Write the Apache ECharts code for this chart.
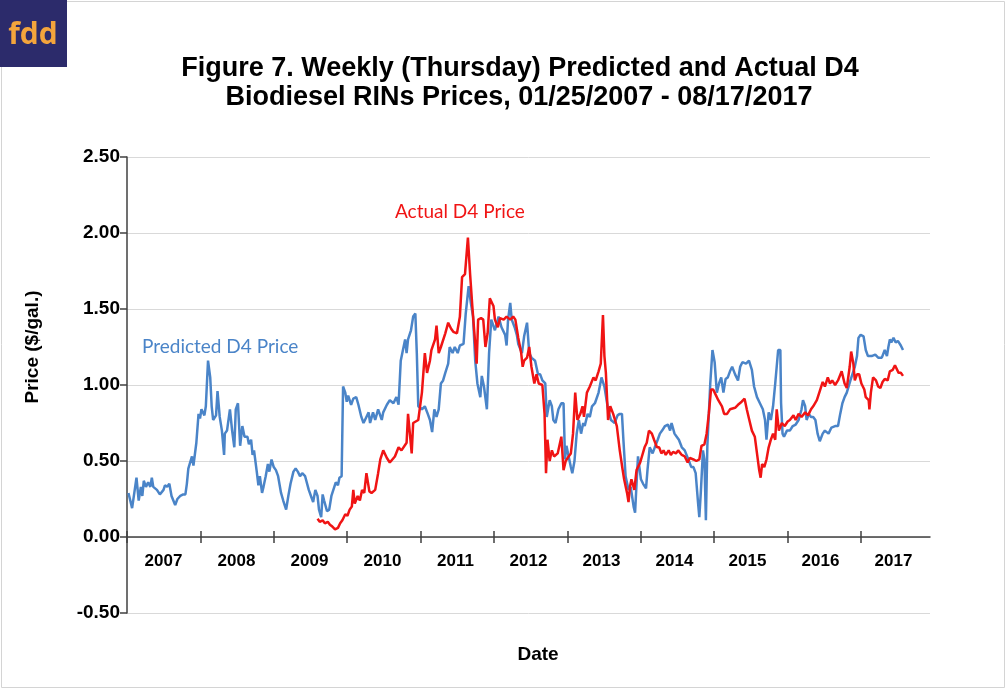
<!DOCTYPE html>
<html>
<head>
<meta charset="utf-8">
<title>Figure 7 - D4 Biodiesel RINs Prices</title>
<script src="https://cdn.jsdelivr.net/npm/echarts@6/dist/echarts.min.js"></script>
<style>
  html, body { margin: 0; padding: 0; background: #fff; }
  #chart { width: 1008px; height: 690px; }
</style>
</head>
<body>
<div id="chart"></div>
<script>
// year labels on the x axis
let yearLabels = ['2007', '2008', '2009', '2010', '2011', '2012', '2013', '2014', '2015', '2016', '2017']

// predicted D4 price (decimal year, $/gal.)
let predYears = [
  2007.02, 2007.04, 2007.07, 2007.10, 2007.13, 2007.16, 2007.19, 2007.21, 2007.23, 2007.26,
  2007.29, 2007.32, 2007.34, 2007.36, 2007.41, 2007.45, 2007.50, 2007.52, 2007.55, 2007.58,
  2007.61, 2007.66, 2007.69, 2007.73, 2007.77, 2007.80, 2007.82, 2007.84, 2007.89, 2007.91,
  2007.93, 2007.95, 2007.98, 2008.00, 2008.02, 2008.06, 2008.08, 2008.11, 2008.14, 2008.16,
  2008.18, 2008.22, 2008.24, 2008.27, 2008.30, 2008.33, 2008.34, 2008.37, 2008.41, 2008.44,
  2008.47, 2008.49, 2008.52, 2008.55, 2008.58, 2008.61, 2008.65, 2008.67, 2008.70, 2008.72,
  2008.74, 2008.78, 2008.80, 2008.82, 2008.85, 2008.87, 2008.90, 2008.93, 2008.95, 2008.98,
  2009.01, 2009.04, 2009.07, 2009.11, 2009.14, 2009.18, 2009.21, 2009.24, 2009.28, 2009.31,
  2009.34, 2009.37, 2009.40, 2009.44, 2009.46, 2009.49, 2009.52, 2009.55, 2009.58, 2009.61,
  2009.63, 2009.66, 2009.68, 2009.70, 2009.74, 2009.77, 2009.80, 2009.84, 2009.86, 2009.89,
  2009.91, 2009.94, 2009.96, 2009.99, 2010.01, 2010.03, 2010.07, 2010.10, 2010.14, 2010.17,
  2010.21, 2010.24, 2010.26, 2010.31, 2010.33, 2010.37, 2010.40, 2010.44, 2010.49, 2010.51,
  2010.56, 2010.60, 2010.65, 2010.69, 2010.72, 2010.75, 2010.78, 2010.81, 2010.83, 2010.85,
  2010.89, 2010.92, 2010.95, 2010.97, 2010.99, 2011.04, 2011.08, 2011.12, 2011.15, 2011.18,
  2011.21, 2011.24, 2011.27, 2011.30, 2011.33, 2011.36, 2011.40, 2011.42, 2011.46, 2011.49,
  2011.53, 2011.56, 2011.61, 2011.64, 2011.68, 2011.71, 2011.74, 2011.77, 2011.80, 2011.84,
  2011.86, 2011.89, 2011.93, 2011.96, 2011.99, 2012.04, 2012.09, 2012.13, 2012.18, 2012.20,
  2012.22, 2012.25, 2012.27, 2012.31, 2012.34, 2012.36, 2012.41, 2012.44, 2012.48, 2012.51,
  2012.54, 2012.59, 2012.63, 2012.66, 2012.69, 2012.73, 2012.75, 2012.79, 2012.82, 2012.84,
  2012.87, 2012.91, 2012.95, 2012.98, 2013.00, 2013.02, 2013.05, 2013.08, 2013.10, 2013.13,
  2013.16, 2013.19, 2013.22, 2013.25, 2013.27, 2013.31, 2013.34, 2013.37, 2013.41, 2013.46,
  2013.50, 2013.54, 2013.57, 2013.59, 2013.63, 2013.68, 2013.72, 2013.75, 2013.78, 2013.80,
  2013.83, 2013.87, 2013.90, 2013.94, 2013.96, 2013.98, 2014.00, 2014.04, 2014.07, 2014.11,
  2014.13, 2014.16, 2014.20, 2014.23, 2014.27, 2014.30, 2014.33, 2014.37, 2014.41, 2014.44,
  2014.46, 2014.50, 2014.53, 2014.56, 2014.60, 2014.64, 2014.69, 2014.73, 2014.76, 2014.79,
  2014.82, 2014.84, 2014.86, 2014.89, 2014.91, 2014.93, 2014.95, 2014.99, 2015.02, 2015.05,
  2015.08, 2015.11, 2015.14, 2015.17, 2015.20, 2015.23, 2015.26, 2015.29, 2015.33, 2015.37,
  2015.40, 2015.43, 2015.48, 2015.52, 2015.56, 2015.59, 2015.63, 2015.67, 2015.71, 2015.74,
  2015.76, 2015.79, 2015.82, 2015.85, 2015.88, 2015.90, 2015.92, 2015.95, 2015.96, 2015.98,
  2016.00, 2016.04, 2016.08, 2016.12, 2016.16, 2016.20, 2016.24, 2016.26, 2016.29, 2016.31,
  2016.34, 2016.37, 2016.40, 2016.43, 2016.46, 2016.49, 2016.53, 2016.56, 2016.61, 2016.65,
  2016.70, 2016.74, 2016.77, 2016.80, 2016.83, 2016.86, 2016.91, 2016.97, 2017.00, 2017.02,
  2017.05, 2017.09, 2017.12, 2017.15, 2017.20, 2017.25, 2017.29, 2017.34, 2017.36, 2017.38,
  2017.41, 2017.43, 2017.45, 2017.47, 2017.50, 2017.53, 2017.56, 2017.60, 2017.63
]
let predPrices = [
  0.29, 0.28, 0.19, 0.29, 0.39, 0.24, 0.33, 0.27, 0.37, 0.33,
  0.36, 0.33, 0.39, 0.33, 0.31, 0.28, 0.31, 0.34, 0.33, 0.35,
  0.27, 0.21, 0.25, 0.27, 0.28, 0.28, 0.35, 0.45, 0.53, 0.47,
  0.48, 0.62, 0.81, 0.78, 0.84, 0.80, 0.86, 1.16, 1.05, 0.86,
  0.77, 0.80, 0.96, 0.79, 0.70, 0.54, 0.68, 0.70, 0.84, 0.70,
  0.59, 0.84, 0.88, 0.60, 0.73, 0.66, 0.66, 0.61, 0.64, 0.54,
  0.57, 0.42, 0.34, 0.40, 0.29, 0.33, 0.40, 0.48, 0.43, 0.51,
  0.46, 0.44, 0.40, 0.29, 0.24, 0.18, 0.27, 0.35, 0.43, 0.45,
  0.43, 0.40, 0.42, 0.40, 0.41, 0.31, 0.27, 0.23, 0.31, 0.27,
  0.18, 0.13, 0.28, 0.24, 0.17, 0.18, 0.27, 0.33, 0.36, 0.34,
  0.39, 0.40, 0.99, 0.95, 0.89, 0.93, 0.87, 0.91, 0.92, 0.87,
  0.79, 0.75, 0.77, 0.82, 0.75, 0.82, 0.77, 0.84, 0.77, 0.82,
  0.87, 0.90, 0.88, 0.92, 0.87, 1.16, 1.23, 1.30, 1.21, 1.30,
  1.36, 1.45, 1.47, 1.21, 0.86, 0.84, 0.86, 0.81, 0.77, 0.69,
  0.84, 0.79, 0.84, 1.01, 1.03, 1.08, 1.14, 1.25, 1.21, 1.25,
  1.21, 1.26, 1.27, 1.47, 1.65, 1.54, 1.45, 1.16, 1.01, 0.92,
  1.06, 0.99, 0.84, 1.21, 1.43, 1.36, 1.45, 1.38, 1.33, 1.26,
  1.43, 1.54, 1.43, 1.38, 1.33, 1.27, 1.21, 1.32, 1.41, 1.21,
  1.18, 1.16, 1.07, 1.07, 1.03, 1.01, 0.79, 0.90, 0.86, 0.77,
  0.75, 0.84, 0.88, 0.88, 0.51, 0.60, 0.53, 0.46, 0.42, 0.50,
  0.68, 0.77, 0.68, 0.75, 0.73, 0.81, 0.79, 0.86, 0.88, 0.95,
  1.05, 0.99, 0.90, 0.84, 0.77, 0.75, 0.80, 0.81, 0.81, 0.64,
  0.40, 0.31, 0.33, 0.20, 0.16, 0.35, 0.53, 0.38, 0.35, 0.32,
  0.44, 0.59, 0.55, 0.59, 0.64, 0.68, 0.70, 0.73, 0.74, 0.70,
  0.75, 0.68, 0.66, 0.64, 0.59, 0.57, 0.51, 0.46, 0.46, 0.42,
  0.24, 0.13, 0.29, 0.57, 0.51, 0.11, 0.60, 1.01, 1.23, 1.15,
  0.95, 1.01, 1.05, 0.95, 1.04, 1.05, 1.09, 1.12, 1.07, 1.03,
  1.12, 1.15, 1.14, 1.16, 1.10, 0.99, 0.92, 0.88, 0.84, 0.77,
  0.64, 0.82, 0.77, 0.86, 1.01, 1.12, 1.23, 1.23, 0.88, 0.68,
  0.66, 0.70, 0.70, 0.73, 0.74, 0.77, 0.84, 0.90, 0.86, 0.77,
  0.81, 0.79, 0.79, 0.77, 0.68, 0.63, 0.68, 0.70, 0.68, 0.72,
  0.73, 0.73, 0.81, 0.88, 0.92, 0.95, 1.03, 1.12, 1.19, 1.31,
  1.33, 1.32, 1.23, 1.19, 1.19, 1.20, 1.18, 1.18, 1.17, 1.23,
  1.19, 1.25, 1.30, 1.28, 1.31, 1.28, 1.29, 1.26, 1.23
]

// actual D4 price (decimal year, $/gal.)
let actYears = [
  2009.61, 2009.64, 2009.68, 2009.71, 2009.75, 2009.78, 2009.81, 2009.85, 2009.89, 2009.92,
  2009.95, 2009.99, 2010.02, 2010.05, 2010.08, 2010.10, 2010.12, 2010.16, 2010.19, 2010.22,
  2010.25, 2010.28, 2010.32, 2010.35, 2010.40, 2010.44, 2010.47, 2010.51, 2010.56, 2010.60,
  2010.67, 2010.72, 2010.76, 2010.83, 2010.85, 2010.90, 2010.92, 2010.99, 2011.04, 2011.08,
  2011.11, 2011.15, 2011.17, 2011.22, 2011.24, 2011.27, 2011.30, 2011.36, 2011.40, 2011.44,
  2011.47, 2011.52, 2011.56, 2011.59, 2011.63, 2011.67, 2011.70, 2011.73, 2011.77, 2011.79,
  2011.81, 2011.85, 2011.88, 2011.91, 2011.94, 2011.97, 2012.02, 2012.04, 2012.08, 2012.11,
  2012.16, 2012.20, 2012.25, 2012.29, 2012.32, 2012.36, 2012.40, 2012.42, 2012.44, 2012.48,
  2012.51, 2012.54, 2012.58, 2012.61, 2012.64, 2012.69, 2012.72, 2012.74, 2012.76, 2012.79,
  2012.82, 2012.85, 2012.90, 2012.95, 2012.98, 2013.01, 2013.05, 2013.08, 2013.11, 2013.14,
  2013.17, 2013.21, 2013.24, 2013.26, 2013.30, 2013.34, 2013.39, 2013.42, 2013.46, 2013.49,
  2013.52, 2013.54, 2013.56, 2013.59, 2013.62, 2013.66, 2013.71, 2013.75, 2013.79, 2013.81,
  2013.85, 2013.87, 2013.89, 2013.91, 2013.95, 2013.98, 2014.03, 2014.05, 2014.09, 2014.12,
  2014.15, 2014.19, 2014.22, 2014.26, 2014.29, 2014.32, 2014.35, 2014.38, 2014.42, 2014.45,
  2014.48, 2014.52, 2014.55, 2014.60, 2014.64, 2014.68, 2014.71, 2014.76, 2014.80, 2014.84,
  2014.87, 2014.91, 2014.94, 2014.97, 2015.00, 2015.03, 2015.06, 2015.10, 2015.15, 2015.18,
  2015.22, 2015.26, 2015.33, 2015.37, 2015.42, 2015.46, 2015.49, 2015.52, 2015.56, 2015.60,
  2015.63, 2015.66, 2015.68, 2015.70, 2015.73, 2015.76, 2015.79, 2015.82, 2015.85, 2015.88,
  2015.90, 2015.93, 2015.97, 2016.01, 2016.05, 2016.08, 2016.13, 2016.16, 2016.20, 2016.24,
  2016.29, 2016.33, 2016.37, 2016.40, 2016.45, 2016.49, 2016.53, 2016.56, 2016.60, 2016.63,
  2016.66, 2016.70, 2016.74, 2016.79, 2016.83, 2016.86, 2016.90, 2016.92, 2016.95, 2016.97,
  2017.00, 2017.03, 2017.06, 2017.10, 2017.12, 2017.16, 2017.17, 2017.19, 2017.22, 2017.26,
  2017.29, 2017.32, 2017.35, 2017.38, 2017.42, 2017.45, 2017.49, 2017.52, 2017.54, 2017.57,
  2017.60, 2017.63
]
let actPrices = [
  0.12, 0.10, 0.11, 0.09, 0.10, 0.08, 0.07, 0.05, 0.06, 0.09,
  0.11, 0.15, 0.14, 0.18, 0.20, 0.31, 0.22, 0.27, 0.24, 0.31,
  0.29, 0.42, 0.30, 0.29, 0.31, 0.42, 0.51, 0.57, 0.52, 0.49,
  0.53, 0.59, 0.57, 0.62, 0.81, 0.55, 0.75, 0.77, 0.95, 1.21,
  1.08, 1.16, 1.23, 1.30, 1.39, 1.21, 1.25, 1.34, 1.41, 1.37,
  1.35, 1.34, 1.45, 1.71, 1.73, 1.97, 1.73, 1.52, 1.27, 1.14,
  1.43, 1.44, 1.43, 1.25, 1.34, 1.57, 1.52, 1.43, 1.38, 1.44,
  1.43, 1.45, 1.43, 1.45, 1.43, 1.31, 1.21, 1.12, 1.16, 1.18,
  1.25, 1.12, 1.01, 1.07, 1.01, 1.00, 0.81, 0.42, 0.64, 0.50,
  0.57, 0.53, 0.55, 0.66, 0.44, 0.50, 0.53, 0.55, 0.68, 0.95,
  0.77, 0.81, 0.86, 0.79, 0.95, 0.99, 1.05, 1.03, 1.09, 1.14,
  1.46, 1.19, 1.08, 0.77, 0.86, 0.81, 0.73, 0.57, 0.44, 0.38,
  0.29, 0.23, 0.33, 0.38, 0.31, 0.44, 0.49, 0.48, 0.59, 0.62,
  0.70, 0.68, 0.64, 0.59, 0.59, 0.55, 0.57, 0.54, 0.57, 0.54,
  0.56, 0.55, 0.57, 0.54, 0.53, 0.49, 0.52, 0.51, 0.50, 0.51,
  0.60, 0.61, 0.68, 0.81, 0.97, 0.97, 0.94, 0.90, 0.86, 0.81,
  0.81, 0.84, 0.85, 0.87, 0.89, 0.91, 0.84, 0.78, 0.70, 0.66,
  0.55, 0.44, 0.39, 0.48, 0.46, 0.51, 0.59, 0.64, 0.68, 0.64,
  0.84, 0.70, 0.75, 0.73, 0.76, 0.77, 0.80, 0.77, 0.81, 0.79,
  0.82, 0.80, 0.84, 0.86, 0.90, 0.96, 1.02, 0.99, 1.05, 1.01,
  1.03, 1.00, 1.03, 1.09, 1.01, 0.98, 1.12, 1.22, 1.14, 1.03,
  1.07, 1.07, 1.01, 0.97, 0.92, 0.90, 0.84, 0.95, 1.05, 1.03,
  0.99, 0.98, 1.02, 1.04, 1.03, 1.09, 1.10, 1.13, 1.12, 1.08,
  1.08, 1.06
]

// y axis range
let yMin = -0.5
let yMax = 2.5
let yStep = 0.5

let blue = '#4a84c8'
let red = '#f01414'
let axisColor = '#404040'
let font = 'Liberation Sans'

let predData = predYears.map((y, i) => [y, predPrices[i]])
let actData = actYears.map((y, i) => [y, actPrices[i]])

let chart = echarts.init(document.getElementById('chart'))
chart.setOption({
    animation: false,
    backgroundColor: '#ffffff',
    grid: [
        // plot area (lines + price axis)
        {left: 127, right: 78, top: 157, bottom: 77, outerBoundsMode: 'none'},
        // year axis line + labels on the zero line
        {left: 127, right: 78, top: 157, bottom: 153, outerBoundsMode: 'none'},
        // crossing year ticks (2007..2017 boundaries), start 6px above the zero line
        {left: 127, right: 147, top: 157, bottom: 159, outerBoundsMode: 'none'}
    ],
    xAxis: [
        {
            gridIndex: 0,
            type: 'value',
            min: 2007,
            max: 2018,
            show: false
        },
        {
            gridIndex: 1,
            type: 'category',
            data: yearLabels,
            position: 'bottom',
            boundaryGap: true,
            axisLine: {lineStyle: {color: axisColor, width: 1.5}},
            axisTick: {show: false},
            axisLabel: {
                color: '#000', fontFamily: font, fontWeight: 'bold',
                fontSize: 17, margin: 16
            },
            splitLine: {show: false}
        },
        {
            gridIndex: 2,
            type: 'value',
            min: 2007,
            max: 2017,
            interval: 1,
            position: 'bottom',
            axisLine: {show: false},
            axisTick: {show: true, length: 12, lineStyle: {color: axisColor, width: 1.5}},
            axisLabel: {show: false},
            splitLine: {show: false}
        }
    ],
    yAxis: [
        {
            gridIndex: 0,
            type: 'value',
            min: yMin,
            max: yMax,
            interval: yStep,
            axisLine: {show: true, lineStyle: {color: axisColor, width: 1.5}},
            axisTick: {show: true, length: 7, lineStyle: {color: axisColor, width: 1.5}},
            axisLabel: {
                color: '#000', fontFamily: font, fontWeight: 'bold',
                fontSize: 19, margin: 7,
                formatter: v => v.toFixed(2)
            },
            splitLine: {lineStyle: {color: '#d9d9d9', width: 1}}
        },
        {gridIndex: 1, type: 'value', show: false},
        {gridIndex: 2, type: 'value', show: false}
    ],
    series: [
        {
            name: 'Predicted D4 Price',
            type: 'line',
            xAxisIndex: 0,
            yAxisIndex: 0,
            data: predData,
            showSymbol: false,
            lineStyle: {color: blue, width: 2.5},
            itemStyle: {color: blue}
        },
        {
            name: 'Actual D4 Price',
            type: 'line',
            xAxisIndex: 0,
            yAxisIndex: 0,
            data: actData,
            showSymbol: false,
            lineStyle: {color: red, width: 2.5},
            itemStyle: {color: red}
        }
    ],
    graphic: [
        // frame
        {type: 'rect', shape: {x: 1.5, y: 1.5, width: 1003, height: 686},
            style: {fill: 'none', stroke: '#d4d4d4', lineWidth: 1}, z: 0},
        // logo
        {type: 'rect', shape: {x: 0, y: 0, width: 67, height: 67}, style: {fill: '#2c2b6b'}, z: 10},
        {type: 'text', x: 33, y: 35, z: 11,
            style: {text: 'fdd', fill: '#f4a53c', font: 'bold 30px "Open Sans"',
                textAlign: 'center', textVerticalAlign: 'middle'}},
        // title
        {type: 'text', x: 520, y: 69,
            style: {text: 'Figure 7. Weekly (Thursday) Predicted and Actual D4', fill: '#000',
                font: 'bold 27px "Liberation Sans"', textAlign: 'center', textVerticalAlign: 'middle'}},
        {type: 'text', x: 519, y: 98,
            style: {text: 'Biodiesel RINs Prices, 01/25/2007 - 08/17/2017', fill: '#000',
                font: 'bold 27px "Liberation Sans"', textAlign: 'center', textVerticalAlign: 'middle'}},
        // axis titles
        {type: 'text', x: 33, y: 347, rotation: Math.PI / 2,
            style: {text: 'Price ($/gal.)', fill: '#000', font: 'bold 19px "Liberation Sans"',
                textAlign: 'center', textVerticalAlign: 'middle'}},
        {type: 'text', x: 538, y: 655,
            style: {text: 'Date', fill: '#000', font: 'bold 19px "Liberation Sans"',
                textAlign: 'center', textVerticalAlign: 'middle'}},
        // series labels
        {type: 'text', x: 142, y: 347,
            style: {text: 'Predicted D4 Price', fill: blue, font: '19px Lato',
                textAlign: 'left', textVerticalAlign: 'middle'}},
        {type: 'text', x: 395, y: 212,
            style: {text: 'Actual D4 Price', fill: red, font: '19px Lato',
                textAlign: 'left', textVerticalAlign: 'middle'}}
    ]
})
</script>
</body>
</html>
